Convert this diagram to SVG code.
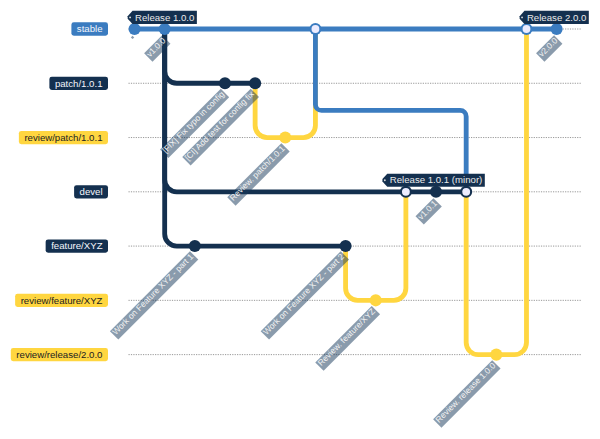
<svg xmlns="http://www.w3.org/2000/svg" width="600" height="439" viewBox="0 0 600 439">
<style>
text{font-family:"Liberation Sans",Arial,sans-serif}
.branch{stroke:#555;stroke-width:1;stroke-dasharray:2}
.blbl{font-size:16px;text-anchor:middle}
.arrow{fill:none;stroke-width:8;stroke-linecap:round}
.blue{stroke:#3b7cc0}.navy{stroke:#14304f}.yel{stroke:#ffd640}
.fblue{fill:#3b7cc0}.fnavy{fill:#14304f}.fyel{fill:#ffd640}
.merge{fill:#ececff}
.clbg{fill:#15375a;opacity:0.5}
.clt{font-size:14px;fill:#f2f2f2;text-anchor:middle}
.tagbg{fill:#14304f}
.tagt{font-size:16px;fill:#eaeaea;text-anchor:middle}
.hole{fill:#dddddd}
</style>
<rect width="600" height="439" fill="#ffffff"/>
<g transform="translate(128.5 29) scale(0.603)">
<g id="branches">
<g id="branch-stable"><line class="branch" x1="0" y1="0" x2="750" y2="0"/><rect class="fblue" x="-94.7" y="-11" width="60.7" height="22" rx="4"/><text class="blbl" x="-64.35" y="5.5" fill="#f4f6fb">stable</text></g>
<g id="branch-patch"><line class="branch" x1="0" y1="90" x2="750" y2="90"/><rect class="fnavy" x="-131.2" y="79" width="97.2" height="22" rx="4"/><text class="blbl" x="-82.6" y="95.5" fill="#f4f6fb">patch/1.0.1</text></g>
<g id="branch-review-patch"><line class="branch" x1="0" y1="180" x2="750" y2="180"/><rect class="fyel" x="-181.8" y="169" width="147.8" height="22" rx="4"/><text class="blbl" x="-107.9" y="185.5" fill="#222">review/patch/1.0.1</text></g>
<g id="branch-devel"><line class="branch" x1="0" y1="270" x2="750" y2="270"/><rect class="fnavy" x="-90.2" y="259" width="56.2" height="22" rx="4"/><text class="blbl" x="-62.1" y="275.5" fill="#f4f6fb">devel</text></g>
<g id="branch-feature"><line class="branch" x1="0" y1="360" x2="750" y2="360"/><rect class="fnavy" x="-137.4" y="349" width="103.4" height="22" rx="4"/><text class="blbl" x="-85.7" y="365.5" fill="#f4f6fb">feature/XYZ</text></g>
<g id="branch-review-feature"><line class="branch" x1="0" y1="450" x2="750" y2="450"/><rect class="fyel" x="-188" y="439" width="154" height="22" rx="4"/><text class="blbl" x="-111" y="455.5" fill="#222">review/feature/XYZ</text></g>
<g id="branch-review-release"><line class="branch" x1="0" y1="540" x2="750" y2="540"/><rect class="fyel" x="-195.2" y="529" width="161.2" height="22" rx="4"/><text class="blbl" x="-114.6" y="545.5" fill="#222">review/release/2.0.0</text></g>
</g>
<g id="connectors">
<path class="arrow blue" d="M 10 0 L 60 0"/>
<path class="arrow navy" d="M 60 0 L 60 340 A 20 20 0 0 0 80 360 L 110 360"/>
<path class="arrow navy" d="M 60 0 L 60 70 A 20 20 0 0 0 80 90 L 160 90"/>
<path class="arrow navy" d="M 160 90 L 210 90"/>
<path class="arrow yel" d="M 210 90 L 210 160 A 20 20 0 0 0 230 180 L 260 180"/>
<path class="arrow blue" d="M 60 0 L 310 0"/>
<path class="arrow yel" d="M 260 180 L 290 180 A 20 20 0 0 0 310 160 L 310 0"/>
<path class="arrow navy" d="M 110 360 L 360 360"/>
<path class="arrow yel" d="M 360 360 L 360 430 A 20 20 0 0 0 380 450 L 410 450"/>
<path class="arrow navy" d="M 60 0 L 60 250 A 20 20 0 0 0 80 270 L 460 270"/>
<path class="arrow yel" d="M 410 450 L 440 450 A 20 20 0 0 0 460 430 L 460 270"/>
<path class="arrow navy" d="M 460 270 L 510 270"/>
<path class="arrow navy" d="M 510 270 L 560 270"/>
<path class="arrow blue" d="M 310 0 L 310 125 A 10 10 0 0 0 320 135 L 550 135 A 10 10 0 0 1 560 145 L 560 270"/>
<path class="arrow yel" d="M 560 270 L 560 520 A 20 20 0 0 0 580 540 L 610 540"/>
<path class="arrow blue" d="M 310 0 L 660 0"/>
<path class="arrow yel" d="M 610 540 L 640 540 A 20 20 0 0 0 660 520 L 660 0"/>
<path class="arrow blue" d="M 660 0 L 710 0"/>
</g>
<g id="commit-0"><circle class="fblue" cx="10" cy="0" r="10"/><g transform="translate(-11.3 10) rotate(-45 0 0)"><rect class="clbg" x="8" y="13.5" width="4" height="4"/></g></g>
<g id="commit-1"><circle class="fblue" cx="60" cy="0" r="10"/><g transform="translate(-25.79 22.97) rotate(-45 50 0)"><rect class="clbg" x="38.93" y="13.5" width="42.14" height="19.6"/><text class="clt" x="60" y="25">v1.0.0</text></g>
<polygon class="tagbg" points="-1.35,-17.2 -1.35,-21.2 6.65,-30.15 113.35,-30.15 113.35,-8.25 6.65,-8.25"/><circle class="hole" cx="2.65" cy="-19.2" r="1.5"/><text class="tagt" x="60" y="-14">Release 1.0.0</text></g>
<g id="commit-2"><circle class="fnavy" cx="110" cy="360" r="10"/><g transform="translate(-81.07 72.43) rotate(-45 100 360)"><rect class="clbg" x="16.2" y="373.5" width="187.6" height="19.6"/><text class="clt" x="110" y="385">Work on Feature XYZ - part 1</text></g></g>
<g id="commit-3"><circle class="fnavy" cx="160" cy="90" r="10"/><g transform="translate(-63.93 57.09) rotate(-45 150 90)"><rect class="clbg" x="88.75" y="103.5" width="142.5" height="19.6"/><text class="clt" x="160" y="115">[FIX] Fix typo in config</text></g></g>
<g id="commit-4"><circle class="fnavy" cx="210" cy="90" r="10"/><g transform="translate(-70.73 63.18) rotate(-45 200 90)"><rect class="clbg" x="129.8" y="103.5" width="160.4" height="19.6"/><text class="clt" x="210" y="115">[CI] Add test for config fix</text></g></g>
<g id="commit-5"><circle class="fyel" cx="260" cy="180" r="10"/><g transform="translate(-58 51.79) rotate(-45 250 180)"><rect class="clbg" x="196.55" y="193.5" width="126.9" height="19.6"/><text class="clt" x="260" y="205">Review. patch/1.0.1</text></g></g>
<g id="commit-6"><circle class="fblue" cx="310" cy="0" r="10"/><circle class="merge" cx="310" cy="0" r="6.5"/></g>
<g id="commit-7"><circle class="fnavy" cx="360" cy="360" r="10"/><g transform="translate(-81.07 72.43) rotate(-45 350 360)"><rect class="clbg" x="266.2" y="373.5" width="187.6" height="19.6"/><text class="clt" x="360" y="385">Work on Feature XYZ - part 2</text></g></g>
<g id="commit-8"><circle class="fyel" cx="410" cy="450" r="10"/><g transform="translate(-60.09 53.66) rotate(-45 400 450)"><rect class="clbg" x="343.8" y="463.5" width="132.4" height="19.6"/><text class="clt" x="410" y="475">Review. feature/XYZ</text></g></g>
<g id="commit-9"><circle class="fnavy" cx="460" cy="270" r="10"/><circle class="merge" cx="460" cy="270" r="6.5"/></g>
<g id="commit-10"><circle class="fnavy" cx="510" cy="270" r="10"/><g transform="translate(-25.79 22.97) rotate(-45 500 270)"><rect class="clbg" x="488.93" y="283.5" width="42.14" height="19.6"/><text class="clt" x="510" y="295">v1.0.1</text></g>
<polygon class="tagbg" points="421.1,252.8 421.1,248.8 429.1,239.85 590.9,239.85 590.9,261.75 429.1,261.75"/><circle class="hole" cx="425.1" cy="250.8" r="1.5"/><text class="tagt" x="510" y="256">Release 1.0.1 (minor)</text></g>
<g id="commit-11"><circle class="fnavy" cx="560" cy="270" r="10"/><circle class="merge" cx="560" cy="270" r="6.5"/></g>
<g id="commit-12"><circle class="fyel" cx="610" cy="540" r="10"/><g transform="translate(-62.45 55.76) rotate(-45 600 540)"><rect class="clbg" x="540.7" y="553.5" width="138.6" height="19.6"/><text class="clt" x="610" y="565">Review. release 1.0.0</text></g></g>
<g id="commit-13"><circle class="fblue" cx="660" cy="0" r="10"/><circle class="merge" cx="660" cy="0" r="6.5"/></g>
<g id="commit-14"><circle class="fblue" cx="710" cy="0" r="10"/><g transform="translate(-25.79 22.97) rotate(-45 700 0)"><rect class="clbg" x="688.93" y="13.5" width="42.14" height="19.6"/><text class="clt" x="710" y="25">v2.0.0</text></g>
<polygon class="tagbg" points="648.65,-17.2 648.65,-21.2 656.65,-30.15 763.35,-30.15 763.35,-8.25 656.65,-8.25"/><circle class="hole" cx="652.65" cy="-19.2" r="1.5"/><text class="tagt" x="710" y="-14">Release 2.0.0</text></g>
</g>
</svg>
